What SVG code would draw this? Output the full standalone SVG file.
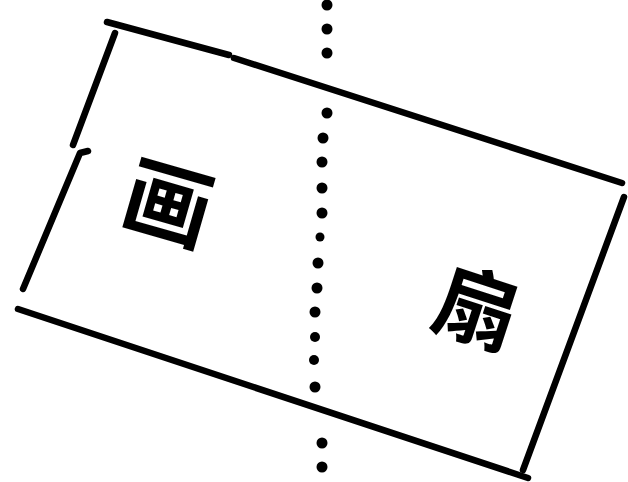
<svg xmlns="http://www.w3.org/2000/svg" width="628" height="482" viewBox="0 0 628 482">
<style>
.edge{fill:none;stroke:#000;stroke-width:6.5;stroke-linecap:round;stroke-linejoin:round}
.dot{fill:#000}
.lbl{font-family:"Noto Sans CJK SC","Noto Sans CJK JP",sans-serif;font-weight:700;fill:#000;text-anchor:middle;dominant-baseline:central}
</style>
<rect x="0" y="0" width="628" height="482" fill="#fff"/>
<g id="outline">
<path class="edge" d="M107,22 L229,55"/>
<path class="edge" d="M234,58 L622,183"/>
<path class="edge" d="M624,197 L523,470"/>
<path class="edge" d="M18,309 L528,478"/>
<path class="edge" d="M115,33 L73,145"/>
<path class="edge" d="M88,151 L80,153 L23,289"/>
</g>
<g id="axis">
<circle class="dot" cx="327" cy="5" r="5.5"/>
<circle class="dot" cx="327" cy="29" r="5.5"/>
<circle class="dot" cx="327" cy="53" r="5.5"/>
<circle class="dot" cx="327" cy="113" r="5.5"/>
<circle class="dot" cx="323" cy="138" r="5.5"/>
<circle class="dot" cx="322" cy="162" r="5.5"/>
<circle class="dot" cx="322" cy="188" r="5.5"/>
<circle class="dot" cx="322" cy="213" r="5.5"/>
<circle class="dot" cx="320" cy="237" r="4.5"/>
<circle class="dot" cx="318" cy="263" r="5.5"/>
<circle class="dot" cx="317" cy="288" r="5.5"/>
<circle class="dot" cx="315" cy="312" r="5.5"/>
<circle class="dot" cx="315" cy="337" r="5"/>
<circle class="dot" cx="314" cy="360" r="5"/>
<circle class="dot" cx="315" cy="387" r="5.5"/>
<circle class="dot" cx="322" cy="443" r="5.5"/>
<circle class="dot" cx="322" cy="467" r="5.5"/>
</g>
<g id="label-left">
<text class="lbl" x="170" y="197" font-size="88" transform="rotate(16 170 197)">画</text>
</g>
<g id="label-right">
<text class="lbl" x="479" y="303" font-size="84" transform="rotate(18 479 303)">扇</text>
</g>
</svg>
